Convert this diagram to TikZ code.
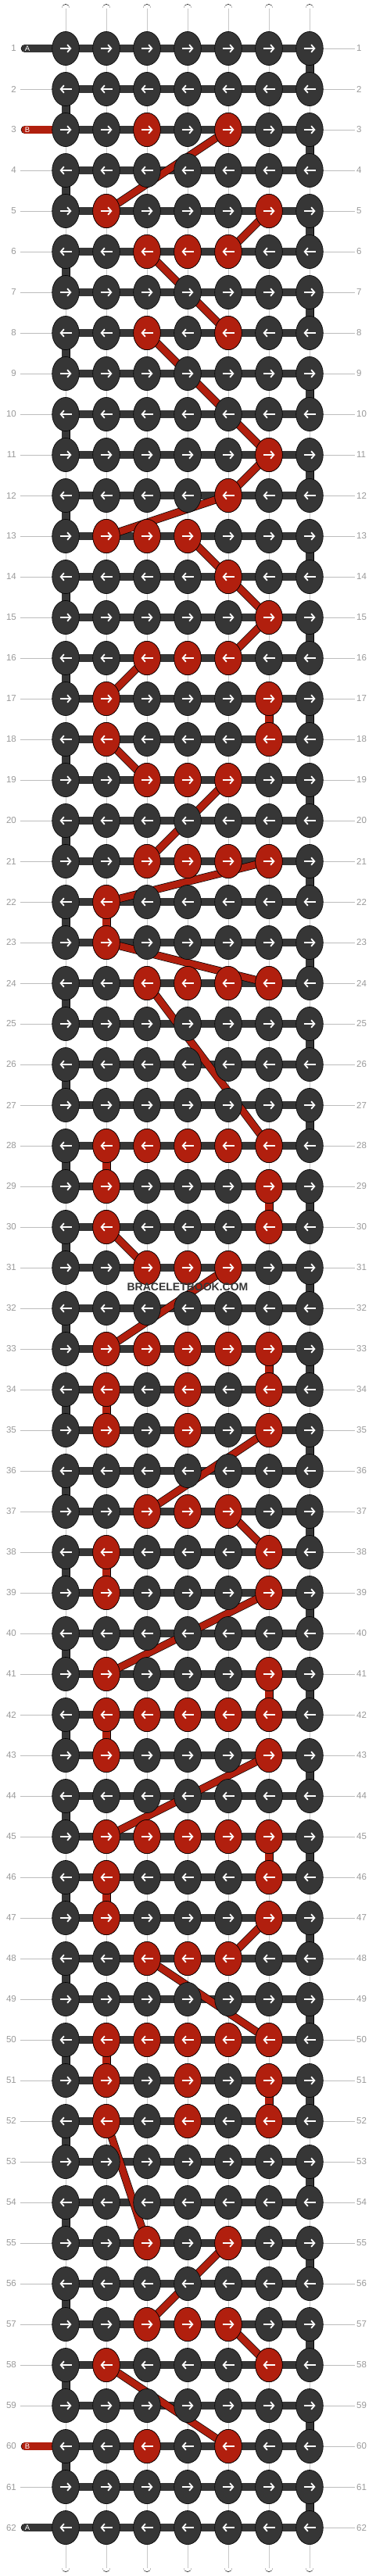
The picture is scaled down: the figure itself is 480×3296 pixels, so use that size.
\documentclass[tikz,border=0pt]{standalone}
\usepackage{fontspec}
\setmainfont{Liberation Sans}
\usetikzlibrary{arrows.meta,calc,shapes.geometric}
\definecolor{cA}{HTML}{363636}
\definecolor{cB}{HTML}{B11F0E}
\definecolor{lbl}{HTML}{999999}
\definecolor{lln}{HTML}{BDBDBD}
\definecolor{midline}{HTML}{C8C8C8}
\pgfdeclarelayer{strandlayer}
\pgfdeclarelayer{barlayer}
\pgfdeclarelayer{linklayer}
\pgfsetlayers{strandlayer,barlayer,linklayer,main}
\tikzset{
  knot/.style={ellipse, draw=black, line width=0.6pt, fill=cA, minimum width=34.6pt, minimum height=43.2pt, inner sep=0pt, outer sep=0pt},
  knotB/.style={knot, fill=cB},
  arrowmark/.style={draw=white, line width=1.8pt, -{Straight Barb[length=4.2pt,width=9.5pt]}},
  wstrand/.style={draw=black, line width=0.7pt, double=white, double distance=9.4pt, line cap=round},
  wmid/.style={draw=midline, line width=0.8pt},
  barA/.style={draw=black, line width=0.7pt, double=cA, double distance=9.2pt},
  linkA/.style={draw=black, line width=0.7pt, double=cA, double distance=9.6pt},
  linkB/.style={draw=black, line width=0.7pt, double=cB, double distance=9.6pt},
  diagB/.style={draw=black, line width=0.7pt, double=cB, double distance=8.6pt},
  tagA/.style={draw=black, line width=0.7pt, double=cA, double distance=9.2pt, line cap=round},
  tagB/.style={draw=black, line width=0.7pt, double=cB, double distance=9.2pt, line cap=round},
  tagtext/.style={text=white, font=\fontsize{9.5}{10}\selectfont, inner sep=0pt},
  guide/.style={draw=lln, line width=0.9pt},
  numL/.style={anchor=east, text=lbl, font=\fontsize{11.5}{12}\selectfont, inner sep=0pt},
  numR/.style={anchor=west, text=lbl, font=\fontsize{11.5}{12}\selectfont, inner sep=0pt},
  wmark/.style={text=cA, font=\bfseries\fontsize{14}{14}\selectfont, inner sep=0pt}
}
\begin{document}
\begin{tikzpicture}[x=1pt,y=-1pt]
\useasboundingbox (0,0) rectangle (480,3296);
% knots (dark)
\foreach \r in {1,...,62}{
  \foreach \c in {1,...,7}{
    \node[knot] (k-\r-\c) at ({32+52*\c},{10+52*\r}) {};
  }
}
% red knots
\foreach \r/\cs in {3/{3,5},5/{2,6},6/{3,4,5},8/{3,5},11/{6},12/{5},13/{2,3,4},14/{5},15/{6},16/{3,4,5},17/{2,6},18/{2,6},19/{3,4,5},21/{3,4,5,6},22/{2},23/{2},24/{3,4,5,6},28/{2,3,4,5,6},29/{2,6},30/{2,6},31/{3,4,5},33/{2,3,4,5,6},34/{2,4,6},35/{2,4,6},37/{3,4,5},38/{2,6},39/{2,6},41/{2,6},42/{2,3,4,5,6},43/{2,6},45/{2,3,4,5,6},46/{2,6},47/{2,6},48/{3,4,5},50/{2,3,4,5,6},51/{2,4,6},52/{2,4,6},55/{3,5},57/{3,4,5},58/{2,6},60/{3,5}}{
  \foreach \c in \cs {
    \node[knotB] (kb-\r-\c) at (k-\r-\c.center) {};
  }
}
% arrows
\foreach \r in {1,3,...,61}{
  \foreach \c in {1,...,7}{
    \draw[arrowmark] ($(k-\r-\c.center)+(-7.5,0)$) -- ($(k-\r-\c.center)+(7.5,0)$);
  }
}
\foreach \r in {2,4,...,62}{
  \foreach \c in {1,...,7}{
    \draw[arrowmark] ($(k-\r-\c.center)+(7.5,0)$) -- ($(k-\r-\c.center)+(-7.5,0)$);
  }
}
% row numbers
\foreach \r in {1,...,62}{
  \node[numL] (nl-\r) at (21,{10+52*\r}) {\r};
  \node[numR] (nr-\r) at (456,{10+52*\r}) {\r};
}
% tag letters
\node[tagtext] (ta1) at (35,62) {A};
\node[tagtext] (tb3) at (35,166) {B};
\node[tagtext] (tb60) at (35,3130) {B};
\node[tagtext] (ta62) at (35,3234) {A};
% watermark
\node[wmark] (wm) at (240,1647) {BRACELETBOOK.COM};

\begin{pgfonlayer}{strandlayer}
\foreach \c in {1,...,7}{
  \coordinate (t-\c) at ({32+52*\c},10.5);
  \coordinate (b-\c) at ({32+52*\c},3285.5);
  \draw[wstrand] (t-\c) -- (b-\c);
  \draw[wmid] (t-\c) -- (b-\c);
}
\end{pgfonlayer}

\begin{pgfonlayer}{barlayer}
\foreach \r in {1,...,62}{
  \coordinate (gr-\r) at (454,{10+52*\r});
  \draw[guide] (gr-\r) -- (k-\r-7.center);
  \draw[barA] (k-\r-1.center) -- (k-\r-7.center);
}
\foreach \r in {2,4,5,6,...,59,61}{
  \coordinate (gl-\r) at (26,{10+52*\r});
  \draw[guide] (gl-\r) -- (k-\r-1.center);
}
\coordinate (tg-1) at (32,62);
\coordinate (tg-3) at (32,166);
\coordinate (tg-60) at (32,3130);
\coordinate (tg-62) at (32,3234);
\draw[tagA] (tg-1) -- (k-1-1.center);
\draw[tagB] (tg-3) -- (k-3-1.center);
\draw[tagB] (tg-60) -- (k-60-1.center);
\draw[tagA] (tg-62) -- (k-62-1.center);
\end{pgfonlayer}

\begin{pgfonlayer}{linklayer}
\foreach \r in {1,3,...,61}{
  \pgfmathtruncatemacro\n{\r+1}
  \draw[linkA] (k-\r-7.center) -- (k-\n-7.center);
}
\foreach \r in {2,4,...,60}{
  \pgfmathtruncatemacro\n{\r+1}
  \draw[linkA] (k-\r-1.center) -- (k-\n-1.center);
}
\foreach \r/\c in {17/6,22/2,28/2,29/6,33/6,34/2,38/2,41/6,42/2,45/6,46/2,50/2,51/6}{
  \pgfmathtruncatemacro\n{\r+1}
  \draw[linkB] (k-\r-\c.center) -- (k-\n-\c.center);
}
\foreach \ra/\ca/\rb/\cb in {3/5/5/2,5/6/6/5,6/3/8/5,8/3/11/6,11/6/12/5,12/5/13/2,13/4/14/5,14/5/15/6,15/6/16/5,16/3/17/2,18/2/19/3,19/5/21/3,21/6/22/2,23/2/24/6,24/3/28/6,30/2/31/3,31/5/33/2,35/6/37/3,37/5/38/6,39/6/41/2,43/6/45/2,47/6/48/5,48/3/50/6,52/2/55/3,55/5/57/3,57/5/58/6,58/2/60/5}{
  \draw[diagB] (k-\ra-\ca.center) -- (k-\rb-\cb.center);
}
\end{pgfonlayer}
\end{tikzpicture}
\end{document}
